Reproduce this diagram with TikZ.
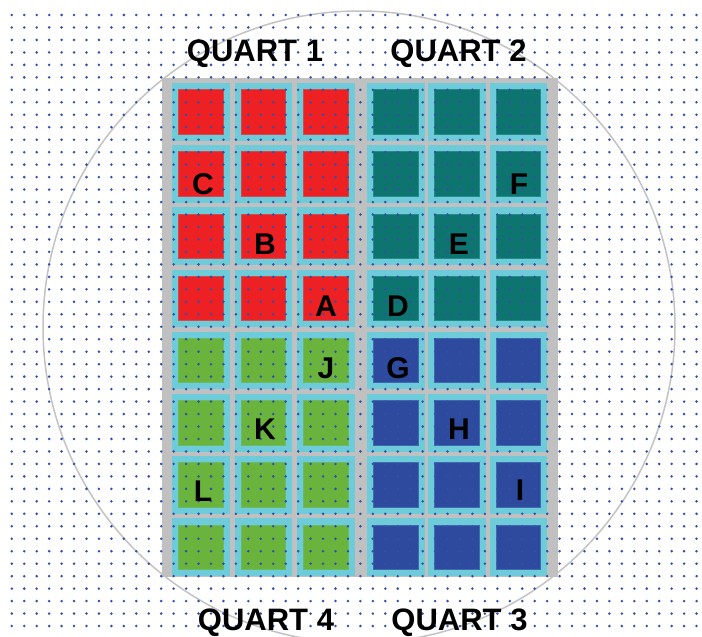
\documentclass[tikz,border=0pt]{standalone}
\usepackage{fontspec}
\setmainfont{Liberation Sans}
\definecolor{graybg}{RGB}{192,192,192}
\definecolor{cyancol}{RGB}{110,204,218}
\definecolor{redcol}{RGB}{237,32,36}
\definecolor{tealcol}{RGB}{14,116,112}
\definecolor{greencol}{RGB}{106,180,62}
\definecolor{bluecol}{RGB}{46,74,158}
\definecolor{dotcol}{RGB}{50,80,165}
\definecolor{circcol}{RGB}{195,195,195}
\newcommand\wcell[3]{%
  \pgfmathsetmacro\cy{83+62.2*#2}%
  \fill[cyancol] (#1,\cy) rectangle ++(57.5,57.5);%
  \filldraw[fill=#3, draw=#3!75!cyancol, line width=0.8pt] (#1+6.5,\cy+6.5) rectangle ++(44.5,44.5);%
}
\tikzset{
  lbl/.style={anchor=base, inner sep=0pt, font=\fontsize{30}{34}\selectfont\bfseries, text=black},
  qlbl/.style={anchor=base, inner sep=0pt, font=\fontsize{31}{36}\selectfont\bfseries, text=black},
  circ/.style={draw=circcol, line width=1.5pt}
}
\begin{document}
\begin{tikzpicture}[x=1pt,y=-1pt]
\useasboundingbox (0,0) rectangle (702,637);
\fill[white] (0,0) rectangle (702,637);
\draw[circ] (359,327) circle[radius=316];
\fill[graybg] (162,78) rectangle (558,577);
\foreach \cx in {172,234.5,297} {\foreach \r in {0,...,3} {\wcell{\cx}{\r}{redcol}}}
\foreach \cx in {367,428,489.5} {\foreach \r in {0,...,3} {\wcell{\cx}{\r}{tealcol}}}
\foreach \cx in {172,234.5,297} {\foreach \r in {4,...,7} {\wcell{\cx}{\r}{greencol}}}
\foreach \cx in {367,428,489.5} {\foreach \r in {4,...,7} {\wcell{\cx}{\r}{bluecol}}}
\foreach \i in {0,...,55} {\foreach \j in {0,...,49} {\fill[dotcol] (11.8+12.45*\i,15+12.47*\j) circle[radius=1.4];}}
\node[lbl] (C) at (203,194) {C};
\node[lbl] (F) at (519,194) {F};
\node[lbl] (B) at (265,254) {B};
\node[lbl] (E) at (459,254) {E};
\node[lbl] (A) at (326,316) {A};
\node[lbl] (D) at (398,316) {D};
\node[lbl] (J) at (326,378) {J};
\node[lbl] (G) at (398,378) {G};
\node[lbl] (K) at (265,439) {K};
\node[lbl] (H) at (459,439) {H};
\node[lbl] (L) at (203,501) {L};
\node[lbl] (I) at (520,500) {I};
\node[qlbl] (q1) at (255,61.7) {QUART 1};
\node[qlbl] (q2) at (458.5,61.7) {QUART 2};
\node[qlbl] (q4) at (266,630) {QUART 4};
\node[qlbl] (q3) at (459.5,630) {QUART 3};
\end{tikzpicture}
\end{document}
